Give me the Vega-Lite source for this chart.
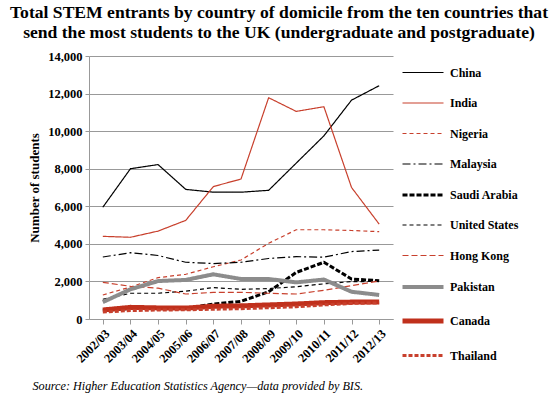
{
  "$schema": "https://vega.github.io/schema/vega-lite/v6.json",
  "autosize": {"type": "none"},
  "padding": {"left": 89, "top": 56, "right": 165, "bottom": 79},
  "width": 304,
  "height": 263,
  "background": "white",
  "title": {
    "text": ["Total STEM entrants by country of domicile from the ten countries that", "send the most students to the UK (undergraduate and postgraduate)"],
    "font": "Liberation Serif",
    "fontSize": 17.6,
    "fontWeight": "bold",
    "lineHeight": 20,
    "color": "black",
    "anchor": "middle",
    "frame": "group",
    "dx": 38,
    "offset": 8
  },
  "data": {
    "values": [
      {"year": "2002/03", "country": "China", "value": 5950},
      {"year": "2003/04", "country": "China", "value": 8000},
      {"year": "2004/05", "country": "China", "value": 8220},
      {"year": "2005/06", "country": "China", "value": 6900},
      {"year": "2006/07", "country": "China", "value": 6750},
      {"year": "2007/08", "country": "China", "value": 6750},
      {"year": "2008/09", "country": "China", "value": 6850},
      {"year": "2009/10", "country": "China", "value": 8300},
      {"year": "2010/11", "country": "China", "value": 9750},
      {"year": "2011/12", "country": "China", "value": 11650},
      {"year": "2012/13", "country": "China", "value": 12420},
      {"year": "2002/03", "country": "India", "value": 4400},
      {"year": "2003/04", "country": "India", "value": 4350},
      {"year": "2004/05", "country": "India", "value": 4680},
      {"year": "2005/06", "country": "India", "value": 5250},
      {"year": "2006/07", "country": "India", "value": 7050},
      {"year": "2007/08", "country": "India", "value": 7450},
      {"year": "2008/09", "country": "India", "value": 11780},
      {"year": "2009/10", "country": "India", "value": 11050},
      {"year": "2010/11", "country": "India", "value": 11300},
      {"year": "2011/12", "country": "India", "value": 7000},
      {"year": "2012/13", "country": "India", "value": 5050},
      {"year": "2002/03", "country": "Nigeria", "value": 1280},
      {"year": "2003/04", "country": "Nigeria", "value": 1700},
      {"year": "2004/05", "country": "Nigeria", "value": 2200},
      {"year": "2005/06", "country": "Nigeria", "value": 2380},
      {"year": "2006/07", "country": "Nigeria", "value": 2780},
      {"year": "2007/08", "country": "Nigeria", "value": 3140},
      {"year": "2008/09", "country": "Nigeria", "value": 4030},
      {"year": "2009/10", "country": "Nigeria", "value": 4750},
      {"year": "2010/11", "country": "Nigeria", "value": 4750},
      {"year": "2011/12", "country": "Nigeria", "value": 4710},
      {"year": "2012/13", "country": "Nigeria", "value": 4650},
      {"year": "2002/03", "country": "Malaysia", "value": 3300},
      {"year": "2003/04", "country": "Malaysia", "value": 3530},
      {"year": "2004/05", "country": "Malaysia", "value": 3380},
      {"year": "2005/06", "country": "Malaysia", "value": 3020},
      {"year": "2006/07", "country": "Malaysia", "value": 2950},
      {"year": "2007/08", "country": "Malaysia", "value": 3020},
      {"year": "2008/09", "country": "Malaysia", "value": 3220},
      {"year": "2009/10", "country": "Malaysia", "value": 3320},
      {"year": "2010/11", "country": "Malaysia", "value": 3290},
      {"year": "2011/12", "country": "Malaysia", "value": 3590},
      {"year": "2012/13", "country": "Malaysia", "value": 3670},
      {"year": "2002/03", "country": "Saudi Arabia", "value": 460},
      {"year": "2003/04", "country": "Saudi Arabia", "value": 560},
      {"year": "2004/05", "country": "Saudi Arabia", "value": 560},
      {"year": "2005/06", "country": "Saudi Arabia", "value": 560},
      {"year": "2006/07", "country": "Saudi Arabia", "value": 800},
      {"year": "2007/08", "country": "Saudi Arabia", "value": 940},
      {"year": "2008/09", "country": "Saudi Arabia", "value": 1450},
      {"year": "2009/10", "country": "Saudi Arabia", "value": 2480},
      {"year": "2010/11", "country": "Saudi Arabia", "value": 3020},
      {"year": "2011/12", "country": "Saudi Arabia", "value": 2130},
      {"year": "2012/13", "country": "Saudi Arabia", "value": 2040},
      {"year": "2002/03", "country": "United States", "value": 1050},
      {"year": "2003/04", "country": "United States", "value": 1370},
      {"year": "2004/05", "country": "United States", "value": 1370},
      {"year": "2005/06", "country": "United States", "value": 1480},
      {"year": "2006/07", "country": "United States", "value": 1670},
      {"year": "2007/08", "country": "United States", "value": 1580},
      {"year": "2008/09", "country": "United States", "value": 1620},
      {"year": "2009/10", "country": "United States", "value": 1720},
      {"year": "2010/11", "country": "United States", "value": 1870},
      {"year": "2011/12", "country": "United States", "value": 1990},
      {"year": "2012/13", "country": "United States", "value": 2000},
      {"year": "2002/03", "country": "Hong Kong", "value": 1950},
      {"year": "2003/04", "country": "Hong Kong", "value": 1740},
      {"year": "2004/05", "country": "Hong Kong", "value": 1640},
      {"year": "2005/06", "country": "Hong Kong", "value": 1330},
      {"year": "2006/07", "country": "Hong Kong", "value": 1420},
      {"year": "2007/08", "country": "Hong Kong", "value": 1420},
      {"year": "2008/09", "country": "Hong Kong", "value": 1370},
      {"year": "2009/10", "country": "Hong Kong", "value": 1330},
      {"year": "2010/11", "country": "Hong Kong", "value": 1530},
      {"year": "2011/12", "country": "Hong Kong", "value": 1780},
      {"year": "2012/13", "country": "Hong Kong", "value": 2020},
      {"year": "2002/03", "country": "Pakistan", "value": 900},
      {"year": "2003/04", "country": "Pakistan", "value": 1580},
      {"year": "2004/05", "country": "Pakistan", "value": 2020},
      {"year": "2005/06", "country": "Pakistan", "value": 2080},
      {"year": "2006/07", "country": "Pakistan", "value": 2380},
      {"year": "2007/08", "country": "Pakistan", "value": 2130},
      {"year": "2008/09", "country": "Pakistan", "value": 2130},
      {"year": "2009/10", "country": "Pakistan", "value": 1950},
      {"year": "2010/11", "country": "Pakistan", "value": 2100},
      {"year": "2011/12", "country": "Pakistan", "value": 1450},
      {"year": "2012/13", "country": "Pakistan", "value": 1280},
      {"year": "2002/03", "country": "Canada", "value": 480},
      {"year": "2003/04", "country": "Canada", "value": 620},
      {"year": "2004/05", "country": "Canada", "value": 590},
      {"year": "2005/06", "country": "Canada", "value": 580},
      {"year": "2006/07", "country": "Canada", "value": 680},
      {"year": "2007/08", "country": "Canada", "value": 700},
      {"year": "2008/09", "country": "Canada", "value": 750},
      {"year": "2009/10", "country": "Canada", "value": 800},
      {"year": "2010/11", "country": "Canada", "value": 870},
      {"year": "2011/12", "country": "Canada", "value": 900},
      {"year": "2012/13", "country": "Canada", "value": 900},
      {"year": "2002/03", "country": "Thailand", "value": 370},
      {"year": "2003/04", "country": "Thailand", "value": 450},
      {"year": "2004/05", "country": "Thailand", "value": 480},
      {"year": "2005/06", "country": "Thailand", "value": 490},
      {"year": "2006/07", "country": "Thailand", "value": 520},
      {"year": "2007/08", "country": "Thailand", "value": 550},
      {"year": "2008/09", "country": "Thailand", "value": 600},
      {"year": "2009/10", "country": "Thailand", "value": 650},
      {"year": "2010/11", "country": "Thailand", "value": 750},
      {"year": "2011/12", "country": "Thailand", "value": 830},
      {"year": "2012/13", "country": "Thailand", "value": 860}
    ]
  },
  "mark": {"type": "line", "strokeCap": "butt", "strokeJoin": "round"},
  "encoding": {
    "x": {
      "field": "year",
      "type": "ordinal",
      "scale": {"type": "point", "padding": 0.5},
      "axis": {
        "title": "Source: Higher Education Statistics Agency\u2014data provided by BIS.",
        "titleFont": "Liberation Serif",
        "titleFontStyle": "italic",
        "titleFontWeight": "normal",
        "titleFontSize": 12.2,
        "titleColor": "black",
        "titleAnchor": "start",
        "titleAlign": "left",
        "titleBaseline": "alphabetic",
        "titleX": -57,
        "titleY": 70,
        "labelAngle": -45,
        "labelFont": "Liberation Serif",
        "labelFontWeight": "bold",
        "labelFontSize": 12.5,
        "labelColor": "black",
        "labelPadding": 3,
        "domainColor": "#999999",
        "tickColor": "#999999",
        "tickSize": 5,
        "grid": false
      }
    },
    "y": {
      "field": "value",
      "type": "quantitative",
      "scale": {"domain": [0, 14000], "nice": false},
      "axis": {
        "title": "Number of students",
        "titleFont": "Liberation Serif",
        "titleFontWeight": "bold",
        "titleFontSize": 13,
        "titleColor": "black",
        "titlePadding": 6,
        "values": [0, 2000, 4000, 6000, 8000, 10000, 12000, 14000],
        "format": ",.0f",
        "labelFont": "Liberation Serif",
        "labelFontWeight": "bold",
        "labelFontSize": 12.5,
        "labelColor": "black",
        "labelPadding": 3,
        "domainColor": "#999999",
        "tickColor": "#999999",
        "tickSize": 4,
        "grid": true,
        "gridColor": "#999999",
        "gridWidth": 1
      }
    },
    "color": {
      "field": "country",
      "type": "nominal",
      "scale": {
        "domain": ["China", "India", "Nigeria", "Malaysia", "Saudi Arabia", "United States", "Hong Kong", "Pakistan", "Canada", "Thailand"],
        "range": ["#000000", "#c8402d", "#c8402d", "#000000", "#000000", "#000000", "#c8402d", "#8c8c8c", "#c0301c", "#c8402d"]
      },
      "legend": {
        "title": null,
        "orient": "none",
        "legendX": 311,
        "legendY": -5,
        "symbolType": "stroke",
        "symbolSize": 1681,
        "labelFont": "Liberation Serif",
        "labelFontWeight": "bold",
        "labelFontSize": 12,
        "labelColor": "black",
        "labelOffset": 4,
        "rowPadding": 2.5,
        "padding": 0
      }
    },
    "strokeDash": {
      "field": "country",
      "type": "nominal",
      "scale": {
        "domain": ["China", "India", "Nigeria", "Malaysia", "Saudi Arabia", "United States", "Hong Kong", "Pakistan", "Canada", "Thailand"],
        "range": [[1, 0], [1, 0], [4, 3], [8, 3, 2, 3], [5, 2], [4, 3], [6, 3], [1, 0], [1, 0], [4, 2]]
      }
    },
    "strokeWidth": {
      "field": "country",
      "type": "nominal",
      "scale": {
        "type": "ordinal",
        "domain": ["China", "India", "Nigeria", "Malaysia", "Saudi Arabia", "United States", "Hong Kong", "Pakistan", "Canada", "Thailand"],
        "range": [1.2, 1.2, 1.2, 1.2, 3, 1.2, 1.2, 4, 5, 3]
      }
    }
  },
  "config": {"view": {"stroke": null}}
}
